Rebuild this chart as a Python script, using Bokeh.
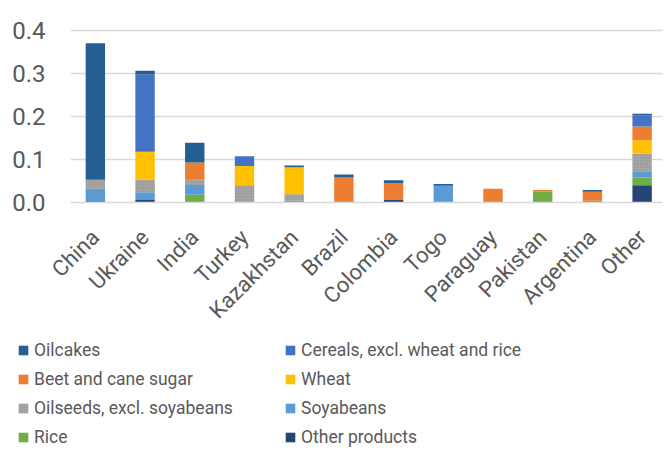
import math
from bokeh.plotting import figure
from bokeh.models import Range1d, FixedTicker, Legend, LegendItem
from bokeh.layouts import column, row
from bokeh.embed import file_html
from bokeh.resources import INLINE

countries = ["China", "Ukraine", "India", "Turkey", "Kazakhstan", "Brazil",
             "Colombia", "Togo", "Paraguay", "Pakistan", "Argentina", "Other"]

# stacked bottom -> top
other_products = [0.003, 0.006, 0.000, 0.000, 0.000, 0.000, 0.007, 0.000, 0.000, 0.000, 0.000, 0.040]
rice           = [0.000, 0.000, 0.018, 0.000, 0.000, 0.000, 0.000, 0.000, 0.000, 0.025, 0.004, 0.018]
soyabeans      = [0.029, 0.018, 0.023, 0.000, 0.004, 0.000, 0.000, 0.039, 0.000, 0.000, 0.000, 0.015]
oilseeds       = [0.021, 0.029, 0.012, 0.040, 0.015, 0.000, 0.000, 0.000, 0.000, 0.000, 0.000, 0.041]
wheat          = [0.000, 0.065, 0.000, 0.045, 0.063, 0.000, 0.000, 0.000, 0.000, 0.000, 0.000, 0.031]
sugar          = [0.000, 0.000, 0.040, 0.000, 0.000, 0.058, 0.038, 0.000, 0.032, 0.004, 0.021, 0.032]
cereals        = [0.000, 0.181, 0.000, 0.023, 0.000, 0.000, 0.000, 0.000, 0.000, 0.000, 0.000, 0.026]
oilcakes       = [0.318, 0.008, 0.046, 0.000, 0.004, 0.007, 0.007, 0.004, 0.000, 0.000, 0.004, 0.004]

series_names = ["Other products", "Rice", "Soyabeans", "Oilseeds, excl. soyabeans",
                "Wheat", "Beet and cane sugar", "Cereals, excl. wheat and rice", "Oilcakes"]
series_values = [other_products, rice, soyabeans, oilseeds, wheat, sugar, cereals, oilcakes]
series_colors = ["#264478", "#70AD47", "#5B9BD5", "#A5A5A5",
                 "#FFC000", "#ED7D31", "#4472C4", "#255E91"]

legend_order = ["Oilcakes", "Cereals, excl. wheat and rice", "Beet and cane sugar", "Wheat",
                "Oilseeds, excl. soyabeans", "Soyabeans", "Rice", "Other products"]

y_ticks = [0.0, 0.1, 0.2, 0.3, 0.4]
y_tick_labels = ["0.0", "0.1", "0.2", "0.3", "0.4"]

FONT = "Roboto"
GREY = "#595959"

xs = list(range(len(countries)))

def hatch_for(name):
    if name.startswith("Oilseeds"):
        return dict(hatch_pattern="dot", hatch_scale=3, hatch_color="#8A8A8A",
                    hatch_alpha=0.7, hatch_weight=1)
    return {}

p = figure(width=667, height=335, output_backend="svg", toolbar_location=None,
           x_range=Range1d(-0.5, 11.41), y_range=Range1d(0, 0.4239),
           min_border_left=70, min_border_right=5, min_border_top=20, min_border_bottom=132)
p.outline_line_color = None

bottom = [0.0] * len(countries)
for name, vals, col in zip(series_names, series_values, series_colors):
    top = [b + v for b, v in zip(bottom, vals)]
    p.vbar(x=xs, bottom=bottom, top=top, width=0.39,
           fill_color=col, line_color=None, **hatch_for(name))
    bottom = top

p.xgrid.grid_line_color = None
p.ygrid.grid_line_color = "#D9D9D9"
p.ygrid.grid_line_width = 1.5
p.ygrid.ticker = FixedTicker(ticks=y_ticks)

p.yaxis.ticker = FixedTicker(ticks=y_ticks)
p.yaxis.major_label_overrides = {t: l for t, l in zip(y_ticks, y_tick_labels)}
p.yaxis.axis_line_color = None
p.yaxis.major_tick_line_color = None
p.yaxis.minor_tick_line_color = None
p.yaxis.major_tick_out = 0
p.yaxis.major_label_text_font = FONT
p.yaxis.major_label_text_font_size = "24px"
p.yaxis.major_label_text_color = GREY
p.yaxis.major_label_standoff = 25

p.xaxis.ticker = FixedTicker(ticks=xs)
p.xaxis.major_label_overrides = {i: c for i, c in zip(xs, countries)}
p.xaxis.axis_line_color = "#D9D9D9"
p.xaxis.axis_line_width = 1.5
p.xaxis.major_tick_line_color = None
p.xaxis.minor_tick_line_color = None
p.xaxis.major_label_orientation = math.pi / 4
p.xaxis.major_label_text_font = FONT
p.xaxis.major_label_text_font_size = "22px"
p.xaxis.major_label_text_color = GREY
p.xaxis.major_label_standoff = 25

# legend panel (separate figure without axes)
lg = figure(width=667, height=116, output_backend="svg", toolbar_location=None,
            x_range=Range1d(0, 1), y_range=Range1d(0, 1),
            x_axis_location=None, y_axis_location=None,
            min_border=0)
lg.grid.grid_line_color = None
lg.outline_line_color = None

legend_renderers = {}
for name, col in zip(series_names, series_colors):
    legend_renderers[name] = lg.vbar(x=[5.0], top=[5.0], bottom=[4.0], width=0.1,
                                     fill_color=col, line_color=None, **hatch_for(name))

items = [LegendItem(label=n, renderers=[legend_renderers[n]]) for n in legend_order]
legend = Legend(items=items, location=(17, 4), orientation="horizontal", ncols=2,
                margin=0, padding=0, spacing=9, border_line_color=None,
                background_fill_alpha=0,
                glyph_width=12, glyph_height=12, label_height=20, label_standoff=5,
                label_width=241,
                label_text_font=FONT, label_text_font_size="17.5px", label_text_color=GREY)
lg.add_layout(legend, "center")

layout = column(p, row(lg, spacing=0), spacing=0)
open("out.html", "w").write(file_html(layout, INLINE))
